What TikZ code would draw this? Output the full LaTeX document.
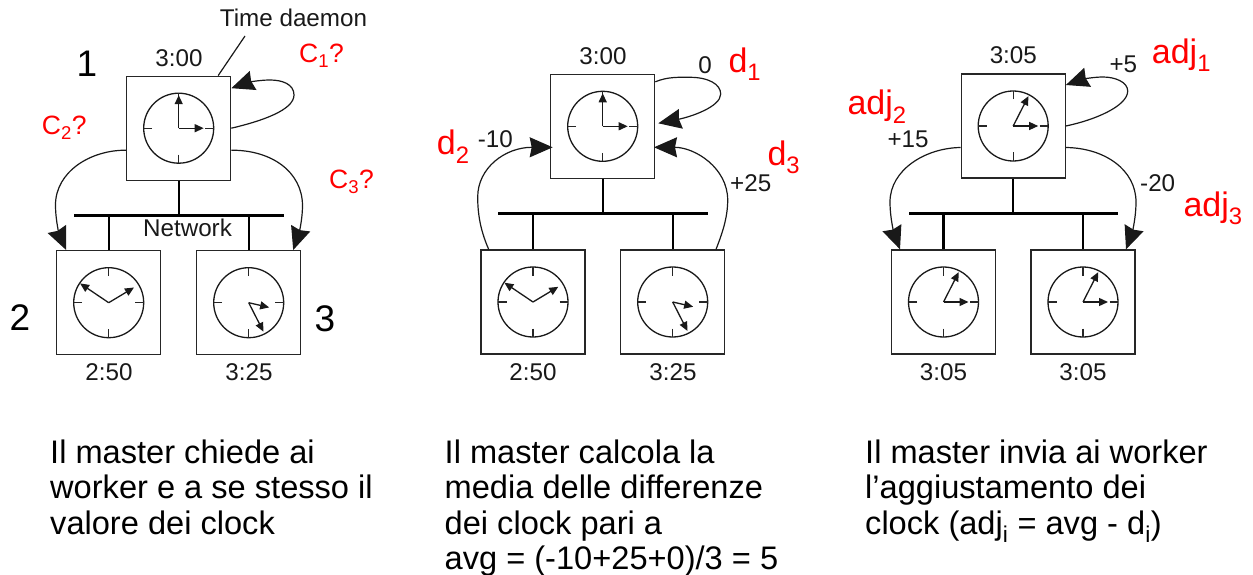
\documentclass[tikz,border=0pt]{standalone}
\usepackage{fontspec}
\setmainfont{Liberation Sans}
\usepackage{xcolor}
\usetikzlibrary{arrows.meta}
\tikzset{
    clock box/.style={draw=black!85, line width=1.3pt, minimum size=104pt, inner sep=0pt},
    clock dial/.style={circle, draw=black!90, line width=1.3pt, minimum size=70pt, inner sep=0pt},
    clock tick/.style={black!85, line width=1.1pt},
    clock hand/.style={-{Triangle[length=9pt,width=8pt]}, line width=1.3pt, black!90},
    bus line/.style={line width=2.8pt},
    bus stub/.style={line width=2.4pt},
    msg arrow/.style={-{Stealth[length=23pt,width=20pt,inset=2pt]}, line width=1.2pt, black!90},
    msg line/.style={line width=1.2pt, black!90},
    lab/.style={font=\fontsize{24.2}{28}\selectfont, inner sep=0pt, black!90},
    num/.style={font=\fontsize{37}{40}\selectfont, inner sep=0pt},
    redq/.style={font=\fontsize{26.5}{30}\selectfont, inner sep=0pt, red},
    redbig/.style={font=\fontsize{34}{40}\selectfont, inner sep=0pt, red},
    caption/.style={font=\fontsize{32.6}{35.4}\selectfont, inner sep=0pt, align=left, anchor=north west},
}
% dial and hands inside a box: node, long hand angle and length, short hand angle and length
\newcommand{\clockface}[5]{
  \node[clock dial] (#1dial) at (#1.center) {};
  \foreach \tickang in {0,90,180,270}
    \draw[clock tick] (#1.center) ++(\tickang:26.5pt) -- ++(\tickang:8.5pt);
  \draw[clock hand] (#1.center) -- ++(#2:#3pt);
  \draw[clock hand] (#1.center) -- ++(#4:#5pt);
}
\begin{document}
\begin{tikzpicture}[x=1pt, y=-1pt]
  \useasboundingbox (0,0) rectangle (1253,575);

  % first panel
  \node[clock box] (m1) at (178.7,128.2) {};
  \node[clock box] (a1) at (108.7,302.7) {};
  \node[clock box] (b1) at (248.7,302.7) {};
  \clockface{m1}{90}{33}{0}{25}
  \clockface{a1}{146}{34.5}{31}{29.5}
  \clockface{b1}{-63}{32.5}{-13}{21}
  \coordinate (bus1l) at (74,215.5);
  \coordinate (bus1r) at (284,215.5);
  \coordinate (td1) at (245,36);
  \draw[bus line] (bus1l) -- (bus1r);
  \draw[bus stub] (m1.south) -- (m1.south |- bus1l);
  \draw[bus stub] (a1.north) -- (a1.north |- bus1l);
  \draw[bus stub] (b1.north) -- (b1.north |- bus1l);
  \draw[msg line] (td1) -- ([xshift=39.5pt]m1.north);
  \draw[msg arrow] ([yshift=-22pt]m1.west) .. controls (90,150) and (55.5,172) .. (55.5,205) .. controls (55.5,222) and (60,236) .. ([xshift=-42.5pt]a1.north);
  \draw[msg arrow] ([yshift=-22pt]m1.east) .. controls (272,150) and (302,172) .. (302.5,205) .. controls (302.5,222) and (298,236) .. ([xshift=44.5pt]b1.north);
  \draw[msg arrow] (m1.east) .. controls (262,121) and (294,110) .. (294,95) .. controls (294,84) and (282,80) .. (270,80) .. controls (258,80) and (246,83) .. ([yshift=40pt]m1.east);
  \node[lab, anchor=base] (td1lab) at (293.5,27) {Time daemon};
  \node[lab, anchor=base] (t1m) at (179,66.7) {3:00};
  \node[lab, anchor=base] (t1a) at (109,380.7) {2:50};
  \node[lab, anchor=base] (t1b) at (249,380.7) {3:25};
  \node[lab, anchor=base] (net) at (187.5,236) {Network};
  \node[num, anchor=base] (n1) at (87,77) {1};
  \node[num, anchor=base] (n2) at (20,330) {2};
  \node[num, anchor=base] (n3) at (325,331) {3};
  \node[redq, anchor=base west] (c1) at (299,63) {C\textsubscript{1}?};
  \node[redq, anchor=base west] (c2) at (41.7,135) {C\textsubscript{2}?};
  \node[redq, anchor=base west] (c3) at (329,189) {C\textsubscript{3}?};
  \node[caption] (cap1) at (50,439.5) {Il master chiede ai\\worker e a se stesso il\\valore dei clock};

  % second panel
  \node[clock box] (m2) at (602.7,126.3) {};
  \node[clock box] (a2) at (533,302) {};
  \node[clock box] (b2) at (672.7,302) {};
  \clockface{m2}{90}{33}{0}{25}
  \clockface{a2}{146}{34.5}{31}{29.5}
  \clockface{b2}{-63}{32.5}{-13}{21}
  \coordinate (bus2l) at (498,213.7);
  \coordinate (bus2r) at (707.5,213.7);
  \draw[bus line] (bus2l) -- (bus2r);
  \draw[bus stub] (m2.south) -- (m2.south |- bus2l);
  \draw[bus stub] (a2.north) -- (a2.north |- bus2l);
  \draw[bus stub] (b2.north) -- (b2.north |- bus2l);
  \draw[msg arrow] ([xshift=-44.3pt]a2.north) .. controls (482,234) and (477.7,218) .. (477.7,197) .. controls (477.7,168) and (505,147.3) .. ([yshift=-21pt,xshift=-50pt]m2.center);
  \draw[msg arrow] ([xshift=43.3pt]b2.north) .. controls (722,234) and (727.7,218) .. (727.7,200) .. controls (727.7,168) and (695,147.3) .. ([yshift=-21pt,xshift=51.3pt]m2.center);
  \draw[msg arrow] ([yshift=44.5pt]m2.east) .. controls (668,76.5) and (680,77.3) .. (690,77.3) .. controls (708,77.3) and (720.7,84) .. (720.7,94) .. controls (720.7,107) and (690,117) .. ([yshift=3pt,xshift=55.6pt]m2.center);
  \node[lab, anchor=base] (t2m) at (603,64.3) {3:00};
  \node[lab, anchor=base] (t2a) at (533,380) {2:50};
  \node[lab, anchor=base] (t2b) at (673,380) {3:25};
  \node[lab, anchor=base] (v2m) at (705,73.3) {0};
  \node[lab, anchor=base west] (v2a) at (477.7,147.7) {-10};
  \node[lab, anchor=base west] (v2b) at (730,191.7) {+25};
  \node[redbig, anchor=base west] (d1) at (728.3,73) {d\textsubscript{1}};
  \node[redbig, anchor=base west] (d2) at (436.7,155) {d\textsubscript{2}};
  \node[redbig, anchor=base west] (d3) at (767.3,165) {d\textsubscript{3}};
  \node[caption] (cap2) at (444.5,439.5) {Il master calcola la\\media delle differenze\\dei clock pari a\\avg = (-10+25+0)/3 = 5};

  % third panel
  \node[clock box] (m3) at (1013.2,126) {};
  \node[clock box] (a3) at (943.5,302) {};
  \node[clock box] (b3) at (1083,302) {};
  \clockface{m3}{63}{33.5}{0}{25}
  \clockface{a3}{63}{33.5}{0}{25}
  \clockface{b3}{63}{33.5}{0}{25}
  \coordinate (bus3l) at (909,213.5);
  \coordinate (bus3r) at (1118,213.5);
  \draw[bus line] (bus3l) -- (bus3r);
  \draw[bus stub] (m3.south) -- (m3.south |- bus3l);
  \draw[bus stub] (a3.north) -- (a3.north |- bus3l);
  \draw[bus stub] (b3.north) -- (b3.north |- bus3l);
  \draw[msg arrow] ([yshift=-21.5pt]m3.west) .. controls (925,148) and (890,170) .. (890,202) .. controls (890,220) and (895,236) .. ([xshift=-43.5pt]a3.north);
  \draw[msg arrow] ([yshift=-21.5pt]m3.east) .. controls (1105,148) and (1136,170) .. (1136,202) .. controls (1136,220) and (1131,236) .. ([xshift=43pt]b3.north);
  \draw[msg arrow] (m3.east) .. controls (1095,120) and (1127.7,106) .. (1127.7,91) .. controls (1127.7,82) and (1115,77) .. (1103,77) .. controls (1092,77) and (1080,80) .. ([yshift=41pt]m3.east);
  \node[lab, anchor=base] (t3m) at (1013.3,64) {3:05};
  \node[lab, anchor=base] (t3a) at (943.5,380) {3:05};
  \node[lab, anchor=base] (t3b) at (1083,380) {3:05};
  \node[lab, anchor=base west] (v3m) at (1109.3,72.7) {+5};
  \node[lab, anchor=base west] (v3a) at (887.3,147.7) {+15};
  \node[lab, anchor=base west] (v3b) at (1140,191.7) {-20};
  \node[redbig, anchor=base west] (adj1) at (1151.7,63.3) {adj\textsubscript{1}};
  \node[redbig, anchor=base west] (adj2) at (847.3,115) {adj\textsubscript{2}};
  \node[redbig, anchor=base west] (adj3) at (1183.3,216.7) {adj\textsubscript{3}};
  \node[caption] (cap3) at (865,439.5) {Il master invia ai worker\\l’aggiustamento dei\\clock (adj\textsubscript{i} = avg - d\textsubscript{i})};
\end{tikzpicture}
\end{document}
